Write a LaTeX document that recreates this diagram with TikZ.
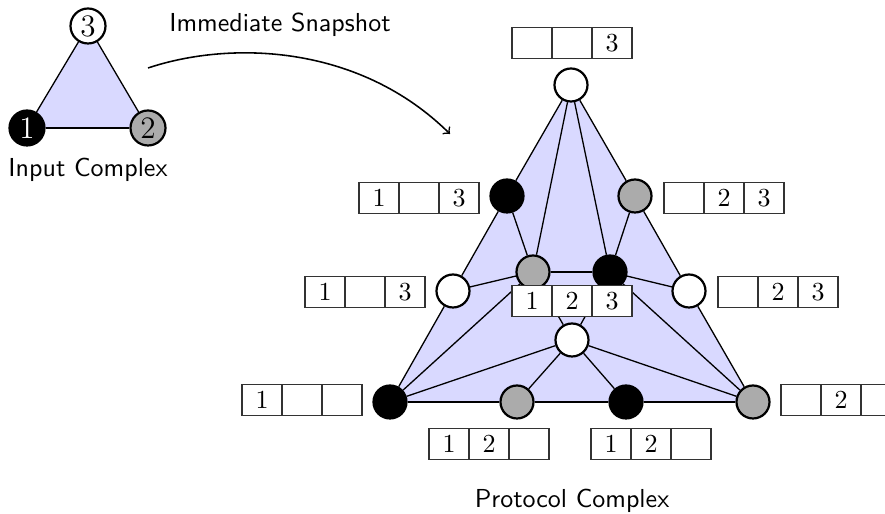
\documentclass[tikz,border=0pt]{standalone}
\usetikzlibrary{backgrounds}
\newcommand\U{0.3846pt}
\newcommand\viewcells[5]{%
  \node[cell] (#1b) at #2 {#4};
  \node[cell] (#1a) at ([xshift=-40*\U]#1b.center) {#3};
  \node[cell] (#1c) at ([xshift=40*\U]#1b.center) {#5};
}
\begin{document}
\begin{tikzpicture}[x=0.3846pt,y=-0.3846pt,
  vtx/.style={circle, draw=black, line width=0.85pt, minimum size=33*\U, inner sep=0pt},
  wv/.style={vtx, fill=white},
  bv/.style={vtx, fill=black},
  gv/.style={vtx, fill=black!33},
  ivtx/.style={circle, draw=black, line width=0.85pt, minimum size=35*\U, inner sep=0pt, font=\large},
  cell/.style={draw=black!80, line width=0.45pt, fill=white, minimum width=40*\U, minimum height=31*\U, inner sep=0pt, outer sep=0pt},
  edgeline/.style={line width=0.5pt},
  lbl/.style={font=\sffamily, anchor=base, inner sep=0pt}]
\useasboundingbox (0,0) rectangle (885,514);

% ---------- input complex ----------
\node[ivtx, fill=white] (i3) at (88,26) {3};
\node[ivtx, fill=black, text=white] (i1) at (27,128) {1};
\node[ivtx, fill=black!33] (i2) at (148,128) {2};
\begin{scope}[on background layer]
  \fill[blue!15] (i3.center) -- (i1.center) -- (i2.center) -- cycle;
\end{scope}
\draw[edgeline] (i3) -- (i1);
\draw[edgeline] (i1) -- (i2);
\draw[edgeline] (i2) -- (i3);
\node[lbl] (inlbl) at (88,177) {Input Complex};

% ---------- arrow ----------
\node[lbl] (arrlbl) at (280,32) {Immediate Snapshot};
\coordinate (as) at (148,68);
\coordinate (ae) at (450,134);
\draw[semithick,->] (as) .. controls (232,40) and (360,45) .. (ae);

% ---------- protocol complex ----------
\node[wv] (T)  at (571,85) {};
\node[bv] (Bk) at (507,196) {};
\node[gv] (Gr) at (635,196) {};
\node[gv] (G1) at (533,272) {};
\node[bv] (B1) at (610,272) {};
\node[wv] (WL) at (453,291) {};
\node[wv] (WR) at (689,291) {};
\node[wv] (WC) at (572,340) {};
\node[bv] (BL) at (390,402) {};
\node[gv] (BG) at (517,402) {};
\node[bv] (BB) at (626,402) {};
\node[gv] (BR) at (753,402) {};
\begin{scope}[on background layer]
  \fill[blue!15] (T.center) -- (BL.center) -- (BR.center) -- cycle;
\end{scope}
\foreach \a/\b in {T/Bk, Bk/WL, WL/BL, BL/BG, BG/BB, BB/BR, BR/WR, WR/Gr, Gr/T,
  T/G1, T/B1, Bk/G1, Gr/B1, G1/B1, WL/G1, WR/B1, BL/G1, BR/B1,
  BL/WC, BR/WC, G1/WC, B1/WC, WC/BG, WC/BB}
  \draw[edgeline] (\a) -- (\b);

% ---------- views ----------
\viewcells{vT}{(572,43)}{}{}{3}
\viewcells{vBk}{(419,198)}{1}{}{3}
\viewcells{vGr}{(724,198)}{}{2}{3}
\viewcells{vWL}{(365,292)}{1}{}{3}
\viewcells{vWR}{(778,292)}{}{2}{3}
\viewcells{vWC}{(572,301)}{1}{2}{3}
\viewcells{vBL}{(302,400)}{1}{}{}
\viewcells{vBR}{(841,400)}{}{2}{}
\viewcells{vBG}{(489,444)}{1}{2}{}
\viewcells{vBB}{(651,444)}{1}{2}{}

\node[lbl] (protlbl) at (572,508) {Protocol Complex};
\end{tikzpicture}
\end{document}
